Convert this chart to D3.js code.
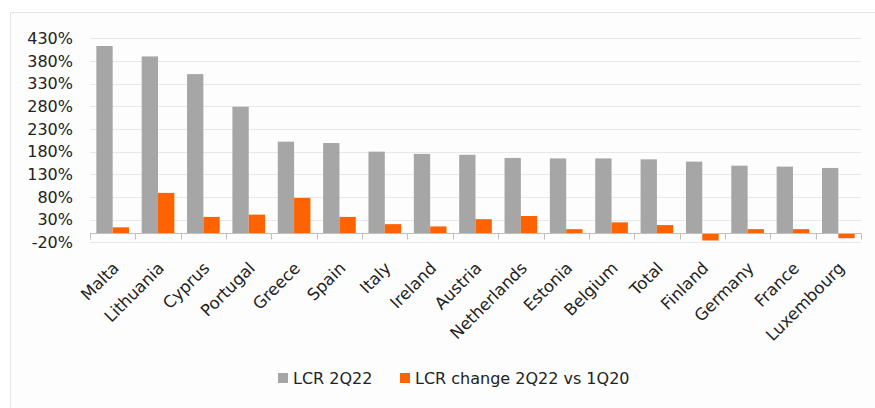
<!DOCTYPE html>
<html>
<head>
<meta charset="utf-8">
<script src="https://cdn.jsdelivr.net/npm/d3@7"></script>
<style>
  body { margin: 0; background: #fff; }
  svg { display: block; font-family: "DejaVu Sans", sans-serif; }
</style>
</head>
<body>
<svg id="chart" width="875" height="408"></svg>
<script>
// Categories and the two series, in per cent
var countries = ['Malta', 'Lithuania', 'Cyprus', 'Portugal', 'Greece', 'Spain', 'Italy',
  'Ireland', 'Austria', 'Netherlands', 'Estonia', 'Belgium', 'Total', 'Finland',
  'Germany', 'France', 'Luxembourg'];
var lcr2q22 = [413, 390, 351, 279, 202, 199, 180, 175, 173, 166, 165, 165, 163, 158, 149, 147, 144];
var lcrChange = [13, 89, 36, 41, 78, 36, 20, 15, 31, 38, 9, 24, 18, -16, 9, 9, -11];
var yTicks = [-20, 30, 80, 130, 180, 230, 280, 330, 380, 430];
var seriesNames = ['LCR 2Q22', 'LCR change 2Q22 vs 1Q20'];
var colors = ['#a6a6a6', '#ff6200'];

var svg = d3.select('#chart');

// light frame round the chart
svg.append('rect')
  .attr('x', 10.5).attr('y', 12.5)
  .attr('width', 880).attr('height', 420)
  .attr('fill', '#fdfdfd')
  .attr('stroke', '#e4e4e4');

var x = d3.scaleBand().domain(countries).range([90, 861]);
var y = d3.scaleLinear().domain([-20, 430]).range([242.3, 38.3]);
var bw = x.bandwidth() * 0.36;
var off = (x.bandwidth() - 2 * bw) / 2;

// gridlines
svg.append('g').selectAll('line')
  .data(yTicks)
  .join('line')
  .attr('x1', 90).attr('x2', 861)
  .attr('y1', function(d) { return Math.round(y(d)) + 0.5; })
  .attr('y2', function(d) { return Math.round(y(d)) + 0.5; })
  .attr('stroke', '#e8e8e8');

// y labels
svg.append('g').selectAll('text')
  .data(yTicks)
  .join('text')
  .attr('x', 73)
  .attr('y', function(d) { return y(d); })
  .attr('dy', '0.36em')
  .attr('text-anchor', 'end')
  .attr('font-size', 16)
  .attr('fill', '#222')
  .text(function(d) { return d + '%'; });

// bars
var bars = svg.append('g');
bars.selectAll('rect.lcr')
  .data(lcr2q22)
  .join('rect')
  .attr('class', 'lcr')
  .attr('x', function(d, i) { return x(countries[i]) + off; })
  .attr('y', function(d) { return y(d); })
  .attr('width', bw)
  .attr('height', function(d) { return y(0) - y(d); })
  .attr('fill', colors[0]);

bars.selectAll('rect.chg')
  .data(lcrChange)
  .join('rect')
  .attr('class', 'chg')
  .attr('x', function(d, i) { return x(countries[i]) + off + bw; })
  .attr('y', function(d) { return y(Math.max(0, d)); })
  .attr('width', bw)
  .attr('height', function(d) { return Math.abs(y(0) - y(d)); })
  .attr('fill', colors[1]);

// x axis line with ticks between categories
var y0 = Math.round(y(0)) + 0.5;
svg.append('line')
  .attr('x1', 90).attr('x2', 861)
  .attr('y1', y0).attr('y2', y0)
  .attr('stroke', '#bfbfbf');
svg.append('g').selectAll('line')
  .data(countries.concat(['end']))
  .join('line')
  .attr('x1', function(d, i) { return Math.round(90 + i * x.step()) + 0.5; })
  .attr('x2', function(d, i) { return Math.round(90 + i * x.step()) + 0.5; })
  .attr('y1', y0).attr('y2', y0 + 6)
  .attr('stroke', '#bfbfbf');

// rotated category labels
svg.append('g').selectAll('text')
  .data(countries)
  .join('text')
  .attr('transform', function(d) {
    return 'translate(' + (x(d) + x.bandwidth() / 2 + 3) + ',265) rotate(-45)';
  })
  .attr('text-anchor', 'end')
  .attr('dy', '0.36em')
  .attr('font-size', 16.5)
  .attr('fill', '#222')
  .text(function(d) { return d; });

// legend
var legendX = [278, 400];
var legend = svg.append('g').selectAll('g')
  .data(seriesNames)
  .join('g')
  .attr('transform', function(d, i) { return 'translate(' + legendX[i] + ',378)'; });
legend.append('rect')
  .attr('x', 0).attr('y', -5)
  .attr('width', 10).attr('height', 10)
  .attr('fill', function(d, i) { return colors[i]; });
legend.append('text')
  .attr('x', 15)
  .attr('dy', '0.36em')
  .attr('font-size', 16)
  .attr('fill', '#222')
  .text(function(d) { return d; });
</script>
</body>
</html>
